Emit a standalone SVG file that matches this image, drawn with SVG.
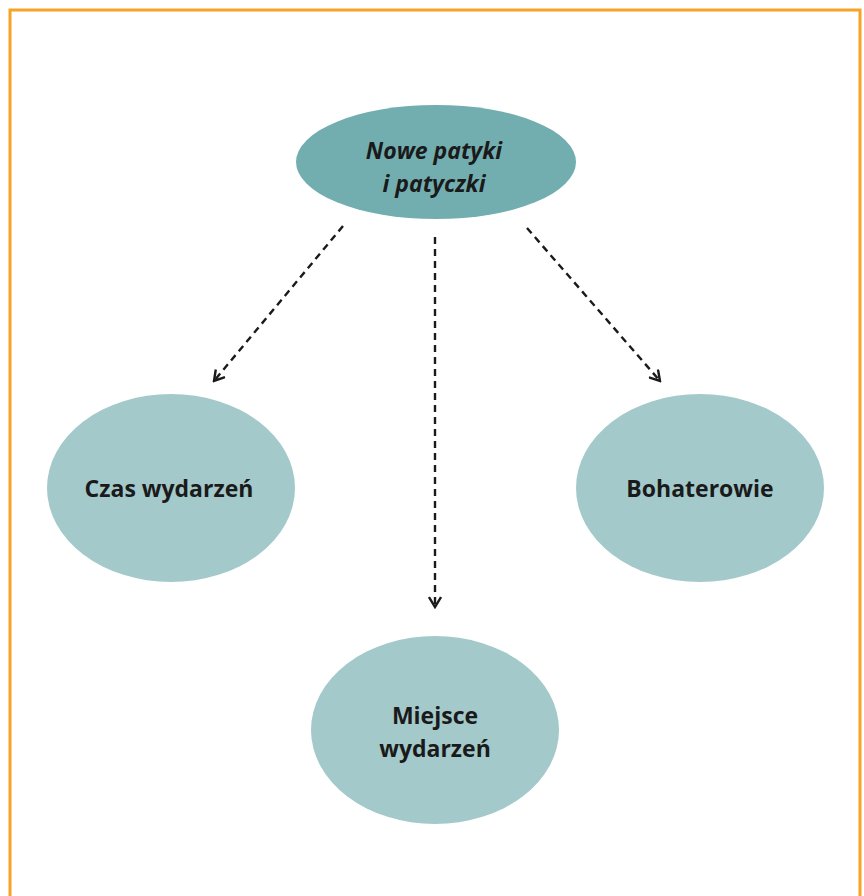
<svg xmlns="http://www.w3.org/2000/svg" width="864" height="896" viewBox="0 0 864 896">
<style>
.t{font-family:"Open Sans","Liberation Sans",sans-serif;font-weight:bold;font-size:23px;fill:#1a1a1a;text-anchor:middle}
.c{stroke:#1a1a1a;stroke-width:2.4;stroke-dasharray:7 5;fill:none}
.sub{fill:#A3C9CB}
</style>
<defs>
<marker id="ah" viewBox="0 0 14 14" refX="12" refY="7" markerWidth="14" markerHeight="14" markerUnits="userSpaceOnUse" orient="auto">
<path d="M2,1 L12,7 L2,13" fill="none" stroke="#1a1a1a" stroke-width="2.4"/>
</marker>
</defs>
<rect width="864" height="896" fill="#fff"/>
<path d="M10,900 L10,10 L860,10 L860,900" fill="none" stroke="#F7A325" stroke-width="3"/>
<g id="connectors">
<line class="c" x1="343" y1="226" x2="214" y2="381" marker-end="url(#ah)"/>
<line class="c" x1="435" y1="237" x2="435" y2="607" marker-end="url(#ah)"/>
<line class="c" x1="527" y1="228" x2="660" y2="381" marker-end="url(#ah)"/>
</g>
<g id="nowe">
<ellipse cx="436" cy="162" rx="140" ry="57" fill="#72AEB0"/>
<text class="t" x="434" y="159" font-style="italic" font-size="26">Nowe patyki</text>
<text class="t" x="434" y="192" font-style="italic" font-size="26">i patyczki</text>
</g>
<g id="czas">
<ellipse class="sub" cx="171" cy="488" rx="124" ry="94"/>
<text class="t" x="169" y="497">Czas wydarzeń</text>
</g>
<g id="bohaterowie">
<ellipse class="sub" cx="700" cy="488" rx="124" ry="94"/>
<text class="t" x="700" y="497">Bohaterowie</text>
</g>
<g id="miejsce">
<ellipse class="sub" cx="435" cy="730" rx="124" ry="94"/>
<text class="t" x="435" y="724">Miejsce</text>
<text class="t" x="435" y="757">wydarzeń</text>
</g>
</svg>
